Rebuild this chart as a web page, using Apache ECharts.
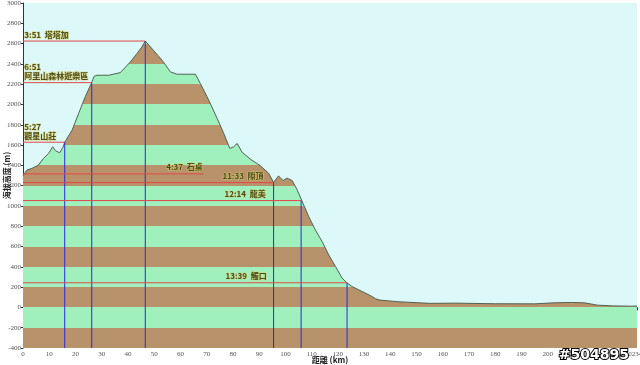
<!DOCTYPE html>
<html>
<head>
<meta charset="utf-8">
<script src="https://cdn.jsdelivr.net/npm/echarts@6/dist/echarts.min.js"></script>
<style>
  html, body { margin: 0; padding: 0; background: #fff; }
  #chart { width: 640px; height: 365px; }
</style>
</head>
<body>
<div id="chart"></div>
<script>
// elevation profile: [distance km, elevation m]
const profile = [
  [0, 1300], [1.5, 1354], [3.4, 1370], [5.9, 1403], [7.8, 1469], [9.8, 1518],
  [11.3, 1583], [12.4, 1544], [14, 1524], [15.3, 1583], [15.9, 1628], [18.7, 1747],
  [21.2, 1911], [23.7, 2075], [26, 2206], [27.1, 2278], [28.2, 2288], [32.7, 2288],
  [37.1, 2314], [40.9, 2419], [43.4, 2501], [45.3, 2566], [46.6, 2625], [49.7, 2534],
  [53, 2436], [56.2, 2321], [58.7, 2298], [65.7, 2298], [67.6, 2206], [70.8, 2042],
  [74, 1862], [76.5, 1715], [78.8, 1567], [80.3, 1583], [81.6, 1616], [83.5, 1530],
  [86.7, 1460], [90.5, 1395], [93.6, 1323], [95.5, 1232], [97.4, 1296], [99.1, 1250],
  [100.6, 1274], [102.6, 1250], [104.5, 1158], [106.3, 1050], [108.9, 895], [111.4, 764],
  [114, 649], [116.5, 518], [119.1, 403], [121.6, 289], [123.5, 240], [125.4, 206],
  [129.2, 157], [133, 108], [134.4, 85], [136, 72], [143, 56], [155, 40], [165, 42],
  [180, 36], [195, 35], [202, 45], [209, 49], [214, 45], [219, 22], [225, 15],
  [232, 12], [234, 14]
];

// waypoints
const wpTime = ['5:27', '6:51', '3:51', '4:37', '11:33', '12:14', '13:39'];
const wpName = ['觀星山莊', '阿里山森林遊樂區', '塔塔加', '石桌', '隙頂', '龍美', '觸口'];
const wpKm = [15.9, 26.2, 46.6, 68.7, 95.5, 106.0, 123.5];
const wpElev = [1628, 2215, 2625, 1316, 1230, 1053, 243];
const wpVertical = [true, true, true, false, true, true, true];
const wpTwoLines = [true, true, false, false, false, false, false];
// where each label starts (km)
const wpLabelKm = [0.5, 0.5, 0.5, 54.6, 76, 76.8, 77.2];

const yMin = -400, yMax = 3000, yStep = 200;
const xMin = 0, xMax = 234, xStep = 10;

const SKY = '#ddf8f8';
const BROWN = '#b8926a';
const GREEN = '#a0f0be';

const pieces = [];
for (let v = yMin, i = 0; v < yMax; v += yStep, i++) {
  pieces.push({ gte: v, lt: v + yStep, color: i % 2 === 0 ? BROWN : GREEN });
}

// reference lines as tiny line series
function refLine(data, color) {
  return {
    type: 'line',
    data: data,
    showSymbol: false,
    silent: true,
    z: 5,
    lineStyle: { color: color, width: 1, opacity: 1 },
    itemStyle: { color: color },
    emphasis: { disabled: true }
  };
}
const refSeries = [];
wpKm.forEach((km, i) => {
  refSeries.push(refLine([[0, wpElev[i]], [km, wpElev[i]]], '#e04848'));
  if (wpVertical[i]) {
    refSeries.push(refLine([[km, yMin], [km, wpElev[i]]], '#2a2ad8'));
  }
});

const labelData = wpKm.map((km, i) => ({
  value: [wpLabelKm[i], wpElev[i]],
  text: wpTwoLines[i] ? wpTime[i] + '\n' + wpName[i] : wpTime[i] + '  ' + wpName[i]
}));

const chart = echarts.init(document.getElementById('chart'));
chart.setOption({
  animation: false,
  backgroundColor: '#ffffff',
  grid: {
    left: 23, right: 3, top: 3, bottom: 17,
    containLabel: false,
    outerBoundsMode: 'none',
    show: true, backgroundColor: SKY, borderWidth: 0
  },
  visualMap: {
    show: false,
    type: 'piecewise',
    dimension: 1,
    seriesIndex: 0,
    pieces: pieces
  },
  xAxis: {
    type: 'value',
    min: xMin, max: xMax, interval: xStep,
    name: '距離 (km)',
    nameLocation: 'middle',
    nameGap: 8,
    nameMoveOverlap: false,
    nameTextStyle: { fontFamily: 'Noto Sans CJK TC', fontSize: 8, fontWeight: 'bold', color: '#222' },
    axisLine: { lineStyle: { color: '#333', width: 1 } },
    axisTick: { length: 3, lineStyle: { color: '#333' } },
    axisLabel: { fontFamily: 'Liberation Serif', fontSize: 7, color: '#555', margin: 3, formatter: v => String(v) },
    splitLine: { show: false }
  },
  yAxis: {
    type: 'value',
    min: yMin, max: yMax, interval: yStep,
    name: '海拔高度 (m)',
    nameLocation: 'middle',
    nameGap: 12,
    nameRotate: 90,
    nameMoveOverlap: false,
    nameTextStyle: { fontFamily: 'Noto Sans CJK TC', fontSize: 8, fontWeight: 'bold', color: '#222' },
    axisLine: { show: true, lineStyle: { color: '#333', width: 1 } },
    axisTick: { show: true, length: 2, lineStyle: { color: '#333' } },
    axisLabel: { fontFamily: 'Liberation Serif', fontSize: 7, color: '#555', margin: 2, formatter: v => String(v) },
    splitLine: { show: false }
  },
  series: [
    {
      type: 'line',
      data: profile,
      showSymbol: false,
      smooth: false,
      lineStyle: { color: '#4f6354', width: 1 },
      areaStyle: { opacity: 1, origin: 'start' },
      z: 2
    },
    ...refSeries,
    {
      type: 'scatter',
      symbolSize: 0,
      z: 6,
      data: labelData,
      label: {
        show: true,
        position: [0, 0],
        align: 'left',
        verticalAlign: 'bottom',
        offset: [0, -2],
        formatter: p => p.data.text,
        fontFamily: 'Noto Sans CJK TC',
        fontSize: 8,
        fontWeight: 'bold',
        lineHeight: 9,
        color: '#2a2a00',
        textBorderColor: '#d8d070',
        textBorderWidth: 1
      }
    }
  ],
  graphic: [{
    type: 'text',
    right: 10,
    bottom: 2,
    z: 100,
    style: {
      text: '#504895',
      font: 'bold 14px "DejaVu Sans"',
      fill: '#ffffff',
      stroke: '#000000',
      lineWidth: 2
    }
  }]
});
</script>
</body>
</html>
